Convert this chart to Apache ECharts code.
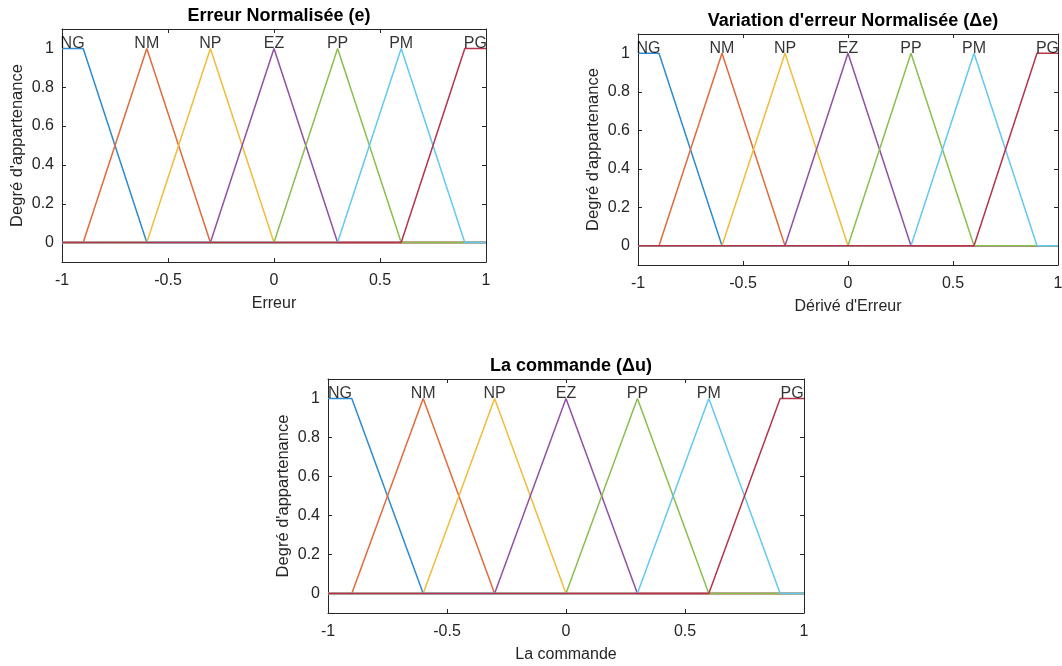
<!DOCTYPE html>
<html>
<head>
<meta charset="utf-8">
<script src="https://cdn.jsdelivr.net/npm/echarts@6/dist/echarts.min.js"></script>
<style>
html,body{margin:0;padding:0;background:#fff;}
#c{width:1062px;height:666px;}
</style>
</head>
<body>
<div id="c"></div>
<script>
// ---- data ----
const xTicks = [-1, -0.5, 0, 0.5, 1];
const yTicks = [0, 0.2, 0.4, 0.6, 0.8, 1];
const mfNames = ['NG', 'NM', 'NP', 'EZ', 'PP', 'PM', 'PG'];
const mfLabelX = [-0.95, -0.6, -0.3, 0, 0.3, 0.6, 0.95];
const NG_x = [-1, -0.9, -0.6, 1];          const NG_y = [1, 1, 0, 0];
const NM_x = [-1, -0.9, -0.6, -0.3, 1];    const NM_y = [0, 0, 1, 0, 0];
const NP_x = [-1, -0.6, -0.3, 0, 1];       const NP_y = [0, 0, 1, 0, 0];
const EZ_x = [-1, -0.3, 0, 0.3, 1];        const EZ_y = [0, 0, 1, 0, 0];
const PP_x = [-1, 0, 0.3, 0.6, 1];         const PP_y = [0, 0, 1, 0, 0];
const PM_x = [-1, 0.3, 0.6, 0.9, 1];       const PM_y = [0, 0, 1, 0, 0];
const PG_x = [-1, 0.6, 0.9, 1];            const PG_y = [0, 0, 1, 1];
const panelTitles = ['Erreur Normalisée (e)', "Variation d'erreur Normalisée (Δe)", 'La commande (Δu)'];
const xNames = ['Erreur', "Dérivé d'Erreur", 'La commande'];
const yName = "Degré d'appartenance";

// ---- styling / layout ----
const colors = ['#2C8BD0', '#E46A3C', '#F2BC3A', '#9150A5', '#8BBE50', '#62C9F2', '#B8324C'];
const mfX = [NG_x, NM_x, NP_x, EZ_x, PP_x, PM_x, PG_x];
const mfY = [NG_y, NM_y, NP_y, EZ_y, PP_y, PM_y, PG_y];
const grids = [
  {left: 62, top: 29, width: 424, height: 233},
  {left: 638, top: 34, width: 420, height: 231},
  {left: 328, top: 379, width: 476, height: 234}
];
const axisColor = '#262626';
const font = 'Liberation Sans, Arial, Helvetica, sans-serif';

const option = {
  animation: false,
  backgroundColor: '#fff',
  title: [], grid: [], xAxis: [], yAxis: [], series: []
};

grids.forEach((g, i) => {
  option.grid.push(Object.assign({containLabel: false, outerBoundsMode: 'none'}, g));
  option.title.push({
    text: panelTitles[i],
    left: g.left + g.width / 2,
    top: g.top - 27,
    textAlign: 'center',
    textStyle: {fontFamily: font, fontSize: 18, fontWeight: 'bold', color: '#000'}
  });
  const common = {
    gridIndex: i, type: 'value',
    axisLine: {show: true, onZero: false, lineStyle: {color: axisColor, width: 1}},
    splitLine: {show: false}
  };
  // bottom x
  option.xAxis.push(Object.assign({}, common, {
    position: 'bottom', min: -1, max: 1,
    name: xNames[i], nameLocation: 'middle', nameGap: 34,
    nameTextStyle: {fontFamily: font, fontSize: 16, color: axisColor},
    axisTick: {show: true, inside: true, length: 4, customValues: xTicks, lineStyle: {color: axisColor}},
    axisLabel: {show: true, customValues: xTicks, margin: 11, fontFamily: font, fontSize: 16, color: axisColor}
  }));
  // top x (mirror)
  option.xAxis.push(Object.assign({}, common, {
    position: 'top', min: -1, max: 1,
    axisTick: {show: true, inside: true, length: 4, customValues: xTicks, lineStyle: {color: axisColor}},
    axisLabel: {show: false}
  }));
  // left y
  option.yAxis.push(Object.assign({}, common, {
    position: 'left', min: -0.1, max: 1.1,
    name: yName, nameLocation: 'middle', nameGap: 36,
    nameTextStyle: {fontFamily: font, fontSize: 16.5, color: axisColor},
    axisTick: {show: true, inside: true, length: 4, customValues: yTicks, lineStyle: {color: axisColor}},
    axisLabel: {show: true, customValues: yTicks, margin: 8, fontFamily: font, fontSize: 16, color: axisColor}
  }));
  // right y (mirror)
  option.yAxis.push(Object.assign({}, common, {
    position: 'right', min: -0.1, max: 1.1,
    axisTick: {show: true, inside: true, length: 4, customValues: yTicks, lineStyle: {color: axisColor}},
    axisLabel: {show: false}
  }));

  mfNames.forEach((n, k) => {
    option.series.push({
      type: 'line', name: n,
      xAxisIndex: i * 2, yAxisIndex: i * 2,
      data: mfX[k].map((x, j) => [x, mfY[k][j]]),
      showSymbol: false, symbol: 'none',
      lineStyle: {color: colors[k], width: 1.5},
      clip: false, silent: true
    });
  });
  option.series.push({
    type: 'scatter',
    xAxisIndex: i * 2, yAxisIndex: i * 2,
    symbolSize: 0, clip: false, silent: true, z: 10,
    data: mfNames.map((n, k) => ({value: [mfLabelX[k], 1], name: n})),
    label: {show: true, position: 'top', distance: -3, formatter: p => p.name,
      fontFamily: font, fontSize: 16, color: '#000'}
  });
});

const chart = echarts.init(document.getElementById('c'), null, {renderer: 'canvas'});
chart.setOption(option);
</script>
</body>
</html>
